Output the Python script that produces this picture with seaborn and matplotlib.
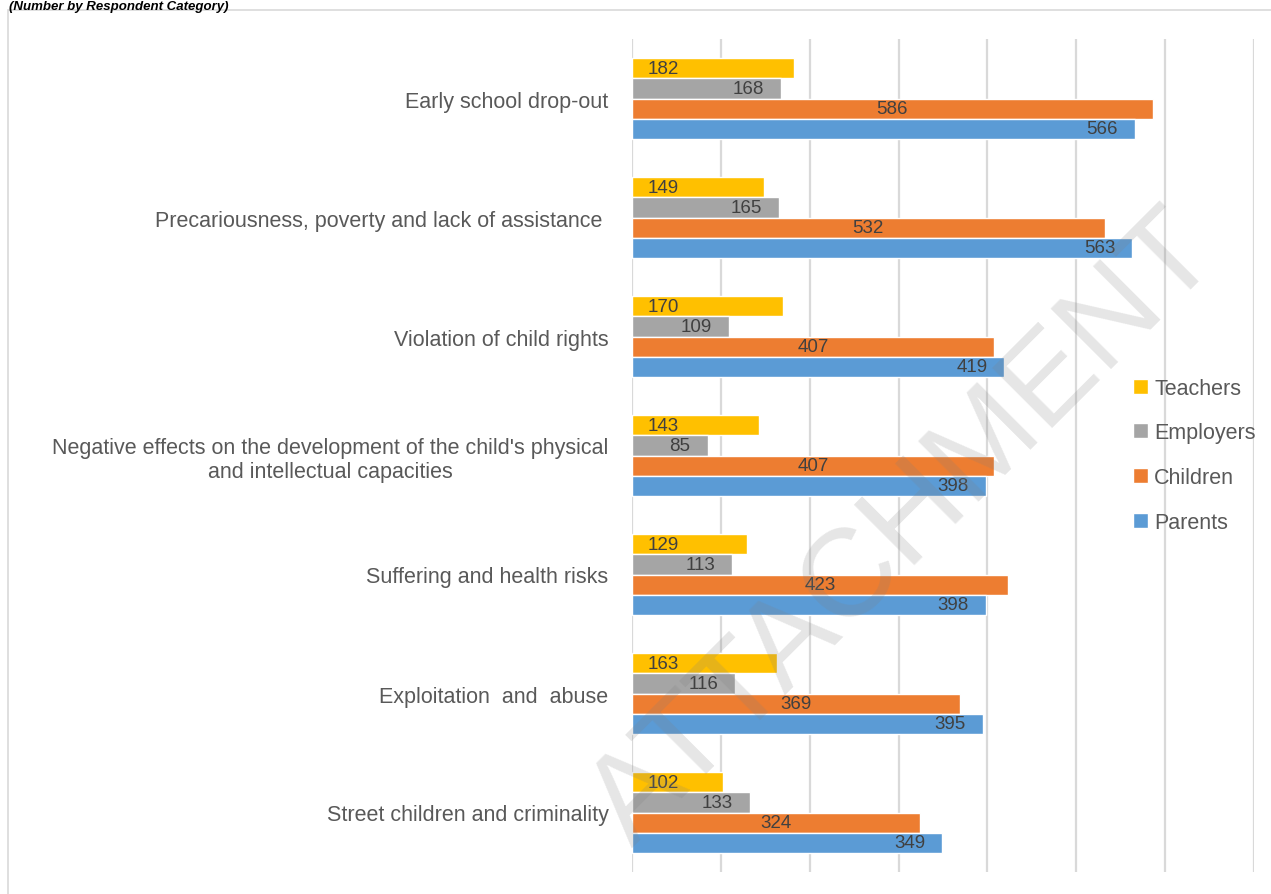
import numpy as np
import pandas as pd
import seaborn as sns
import matplotlib

matplotlib.use('Agg')
import matplotlib.pyplot as plt
from matplotlib.patches import Rectangle

# 数据
categories = [
    'Early school drop-out',
    'Precariousness, poverty and lack of assistance ',
    'Violation of child rights',
    "Negative effects on the development of the child's physical\nand intellectual capacities",
    'Suffering and health risks',
    'Exploitation  and  abuse',
    'Street children and criminality',
]
groups = ['Teachers', 'Employers', 'Children', 'Parents']
teachers = [182, 149, 170, 143, 129, 163, 102]
employers = [168, 165, 109, 85, 113, 116, 133]
children = [586, 532, 407, 407, 423, 369, 324]
parents = [566, 563, 419, 398, 398, 395, 349]
colors = ['#FFC000', '#A5A5A5', '#ED7D31', '#5B9BD5']

rows = []
for g, vals in zip(groups, [teachers, employers, children, parents]):
    for c, v in zip(categories, vals):
        rows.append({'category': c, 'group': g, 'value': v})
df = pd.DataFrame(rows)

sns.set_style('white')
plt.rcParams['font.family'] = ['Liberation Sans', 'DejaVu Sans']

fig = plt.figure(figsize=(12.71, 8.95), dpi=100)
ax = fig.add_axes([632 / 1271, 1 - 873 / 895, 622 / 1271, 833 / 895])

sns.barplot(data=df, y='category', x='value', hue='group', hue_order=groups,
            order=categories, palette=colors, orient='h', width=0.675,
            saturation=1, ax=ax, zorder=2)

ax.set_xlim(0, 700)
ax.set_xticks(range(0, 701, 100))
ax.set_xticklabels([])
ax.set_xlabel('')
ax.set_ylabel('')
ax.grid(axis='x', color='#d9d9d9', linewidth=1.6, zorder=0)
ax.set_axisbelow(True)
for s in ax.spines.values():
    s.set_visible(False)
ax.tick_params(axis='both', length=0)
ax.tick_params(axis='y', pad=17, labelsize=15.5, labelcolor='#595959')
for t in ax.get_yticklabels():
    t.set_multialignment('center')

# 数据标签
lab_kw = dict(fontsize=13.5, color='#404040', va='center', textcoords='offset pixels')
for g, cont in zip(groups, ax.containers):
    for p in cont.patches:
        v = p.get_width()
        yc = p.get_y() + p.get_height() / 2
        if g == 'Teachers':
            ax.annotate(f'{v:.0f}', xy=(0, yc), xytext=(16, 0), ha='left', **lab_kw)
        elif g == 'Children':
            ax.annotate(f'{v:.0f}', xy=(v / 2, yc), xytext=(0, 0), ha='center', **lab_kw)
        else:
            ax.annotate(f'{v:.0f}', xy=(v, yc), xytext=(-17, 0), ha='right', **lab_kw)

# 图例
leg = ax.legend(loc='upper left', bbox_to_anchor=(1122 / 1271, 1 - 368 / 895),
                bbox_transform=fig.transFigure, frameon=False, fontsize=15.5,
                handlelength=0.7, handleheight=0.7, handletextpad=0.3,
                labelspacing=1.1, borderpad=0)
for t in leg.get_texts():
    t.set_color('#595959')

# 边框与标题
fig.patches.append(Rectangle((8 / 1271, -0.05), 1.1, 1.05 - 11 / 895,
                             transform=fig.transFigure, fill=False,
                             edgecolor='#d9d9d9', linewidth=1.2))
fig.text(9 / 1271, 1 - 1 / 895, '(Number by Respondent Category)', fontsize=9.5,
         fontweight='bold', fontstyle='italic', color='black', va='top', ha='left')

# 水印
fig.text(905 / 1271, 1 - 530 / 895, 'ATTACHMENT', fontsize=90, color='#808080',
         alpha=0.2, rotation=45, ha='center', va='center', rotation_mode='anchor',
         zorder=10)

plt.savefig('out.png', dpi=100)
